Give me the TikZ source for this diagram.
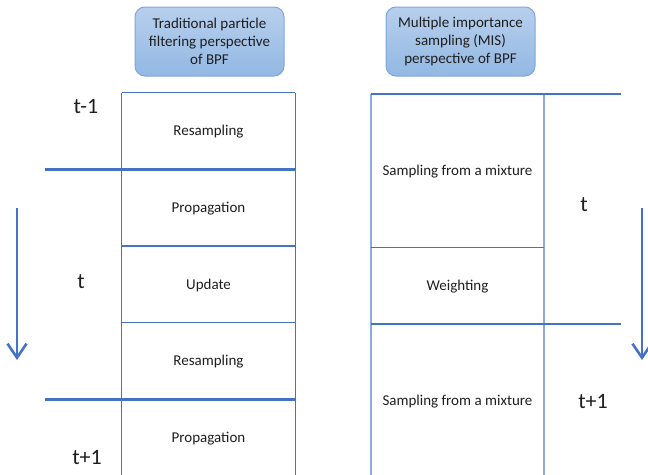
\documentclass[tikz,border=0pt]{standalone}
\usepackage{fontspec}
\setmainfont{Carlito}
\usepackage{tikz}
\usetikzlibrary{positioning, arrows.meta}
\definecolor{azulgrid}{RGB}{68, 114, 196}
\definecolor{azulclaro}{RGB}{142, 170, 219}
\definecolor{hdrtop}{RGB}{184, 207, 237}
\definecolor{hdrbot}{RGB}{146, 184, 227}
\definecolor{hdrline}{RGB}{126, 166, 218}
\definecolor{texto}{RGB}{30, 30, 30}

\begin{document}
\begin{tikzpicture}[x=1pt, y=-1pt,
      node distance=0pt,
      cell/.style={minimum width=173pt, minimum height=76.2pt, inner sep=0pt,
                   text height=2ex, text depth=0pt, text=texto,
                   font=\fontsize{15}{18}\selectfont},
      hdr/.style={draw=hdrline, line width=1pt, rounded corners=10pt,
                  top color=hdrtop, bottom color=hdrbot, text=texto,
                  minimum width=149pt, minimum height=69pt, align=center,
                  font=\fontsize{15}{18}\selectfont},
      tlabel/.style={anchor=base, inner sep=0pt, text=texto,
                     font=\fontsize{22}{26}\selectfont},
      thin/.style={draw=azulgrid, line width=1.1pt},
      light/.style={draw=azulclaro, line width=1.5pt},
      sep/.style={draw=azulgrid, line width=2.6pt},
      arr/.style={-{Straight Barb[length=14pt, width=19pt]}, line width=2.6pt,
                  color=azulgrid}]
    \useasboundingbox (0,0) rectangle (648,474);
    % headers
    \node[hdr] (hl) at (209.5,41.5) {Traditional particle\\ filtering perspective\\ of BPF};
    \node[hdr] (hr) at (460.5,41.5) {Multiple importance\\ sampling (MIS)\\ perspective of BPF};
    % left column
    \node[cell] (lres1) at (208.5,131.1) {Resampling};
    \node[cell, below=of lres1] (lprop1) {Propagation};
    \node[cell, below=of lprop1] (lupd) {Update};
    \node[cell, below=of lupd] (lres2) {Resampling};
    \node[cell, below=of lres2] (lprop2) {Propagation};
    % right column
    \node[cell, minimum height=153pt] (rsam1) at (457.5,170.5) {Sampling from a mixture};
    \node[cell, below=of rsam1] (rwei) {Weighting};
    \node[cell, minimum height=154pt, below=of rwei] (rsam2) {Sampling from a mixture};
    % time labels
    \node[tlabel] (ltm1) at (86,113) {t-1};
    \node[tlabel] (lt) at (81,288) {t};
    \node[tlabel] (ltp1) at (87,464) {t+1};
    \node[tlabel] (rt) at (584,211) {t};
    \node[tlabel] (rtp1) at (593,408) {t+1};
    % grid lines
    \draw[thin] (lres1.north west) -- (lprop2.south west);
    \draw[thin] (lres1.north east) -- (lprop2.south east);
    \draw[thin] (lres1.north west) -- (lres1.north east);
    \draw[thin] (lupd.north west) -- (lupd.north east);
    \draw[thin] (lres2.north west) -- (lres2.north east);
    \draw[sep] ([xshift=-77pt]lprop1.north west) -- (lprop1.north east);
    \draw[sep] ([xshift=-77pt]lprop2.north west) -- (lprop2.north east);
    \draw[light] (rsam1.north west) -- (rsam2.south west);
    \draw[light] (rsam1.north east) -- (rsam2.south east);
    \draw[thin] (rwei.north west) -- (rwei.north east);
    \draw[sep] (rsam1.north west) -- ([xshift=77pt]rsam1.north east);
    \draw[sep] (rsam2.north west) -- ([xshift=77pt]rsam2.north east);
    % time arrows
    \coordinate (la1) at (17,208);
    \coordinate (la2) at (17,360);
    \coordinate (ra1) at (642,208);
    \coordinate (ra2) at (642,360);
    \draw[arr] (la1) -- (la2);
    \draw[arr] (ra1) -- (ra2);
  \end{tikzpicture}
\end{document}
